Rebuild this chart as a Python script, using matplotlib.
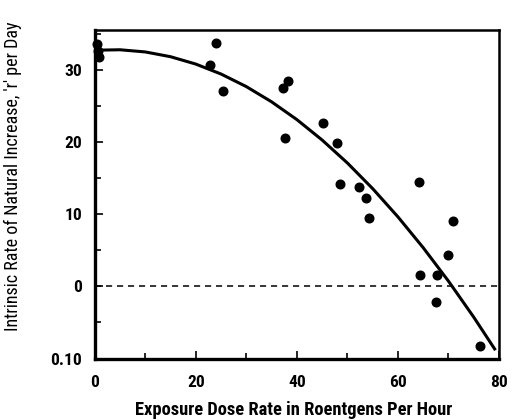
import matplotlib
matplotlib.use("Agg")
import matplotlib.pyplot as plt
from matplotlib.ticker import FixedLocator, MultipleLocator
from matplotlib import font_manager

# Observed population growth rates at each exposure dose rate
dose_rate = [0.4, 0.6, 0.8, 22.8, 24.0, 25.3, 37.2, 38.2, 37.7, 45.1, 47.9,
             48.6, 52.2, 53.7, 54.2, 64.1, 64.4, 67.7, 67.6, 69.9, 70.8, 76.3]
growth_rate = [33.5, 32.6, 31.8, 30.6, 33.7, 27.1, 27.5, 28.5, 20.6, 22.6, 19.8,
               14.2, 13.7, 12.2, 9.5, 14.4, 1.5, 1.5, -2.2, 4.4, 9.1, -8.3]

# Fitted response curve
curve_dose = [0, 5, 10, 15, 20, 25, 30, 35, 40, 45, 50, 55, 60, 65, 70, 75, 79.3]
curve_rate = [32.70, 32.76, 32.46, 31.80, 30.78, 29.40, 27.66, 25.55, 23.09,
              20.26, 17.08, 13.53, 9.62, 5.35, 0.72, -4.27, -8.85]

x_ticks = [0, 20, 40, 60, 80]
x_tick_labels = ["0", "20", "40", "60", "80"]
y_ticks = [-10, 0, 10, 20, 30]
y_tick_labels = ["0.10", "0", "10", "20", "30"]

# Pick a narrow sans face if one is installed
entries = font_manager.fontManager.ttflist
names = {f.name for f in entries}
stretch = "normal"
family = None
for cand in ["Roboto Condensed", "Liberation Sans Narrow", "Open Sans Condensed",
             "DejaVu Sans Condensed"]:
    if cand in names:
        family = cand
        break
if family is None:
    if any(f.name == "DejaVu Sans" and str(f.stretch) in ("condensed", "semi-condensed")
           for f in entries):
        family, stretch = "DejaVu Sans", "condensed"
    elif "Liberation Sans" in names:
        family = "Liberation Sans"
    else:
        family = "DejaVu Sans"
fam = [family, "DejaVu Sans"]

fig = plt.figure(figsize=(5.12, 4.2), dpi=100)
ax = fig.add_axes([0.185, 0.1464, 0.7896, 0.7822])

ax.plot(curve_dose, curve_rate, color="black", lw=2.2, solid_capstyle="butt", zorder=3)
ax.axhline(0, color="black", lw=1.1, dashes=(4, 3.2), zorder=2)
ax.plot(dose_rate, growth_rate, "o", color="black", ms=6.2, clip_on=False, zorder=4)

ax.set_xlim(0, 80)
ax.set_ylim(-10, 35.5)

ax.xaxis.set_major_locator(FixedLocator(x_ticks))
ax.set_xticklabels(x_tick_labels)
ax.xaxis.set_minor_locator(MultipleLocator(10))
ax.yaxis.set_major_locator(FixedLocator(y_ticks))
ax.set_yticklabels(y_tick_labels)
ax.yaxis.set_minor_locator(MultipleLocator(5))

ax.tick_params(which="both", direction="in", width=1.2, top=False, right=False)
ax.tick_params(which="major", length=6)
ax.tick_params(which="minor", length=4)
ax.tick_params(axis="x", pad=12)
ax.tick_params(axis="y", pad=9)
tick_size = 12.5 if stretch == "condensed" or family != "Liberation Sans" else 11.5
for lab in ax.get_xticklabels() + ax.get_yticklabels():
    lab.set_family(fam)
    lab.set_stretch(stretch)
    lab.set_fontsize(tick_size)
    lab.set_fontweight("bold")

for side in ["left", "bottom"]:
    ax.spines[side].set_linewidth(2.4)
for side in ["top", "right"]:
    ax.spines[side].set_linewidth(1.8)

xl = fig.text(294 / 512, 1 - 410 / 420, "Exposure Dose Rate in Roentgens Per Hour",
              ha="center", va="center", fontsize=12.5, fontweight="bold",
              family=fam, stretch=stretch)
yl = fig.text(13 / 512, 1 - 176 / 420, "Intrinsic Rate of Natural Increase, 'r' per Day",
              ha="center", va="center", rotation=90, fontsize=12.5,
              family=fam, stretch=stretch)

# Size the axis titles to their printed lengths
renderer = fig.canvas.get_renderer()
w = xl.get_window_extent(renderer).width
xl.set_fontsize(min(13.5, 12.5 * 318 / w))
h = yl.get_window_extent(renderer).height
yl.set_fontsize(min(13.5, 12.5 * 312 / h))

fig.savefig("out.png", dpi=100)
